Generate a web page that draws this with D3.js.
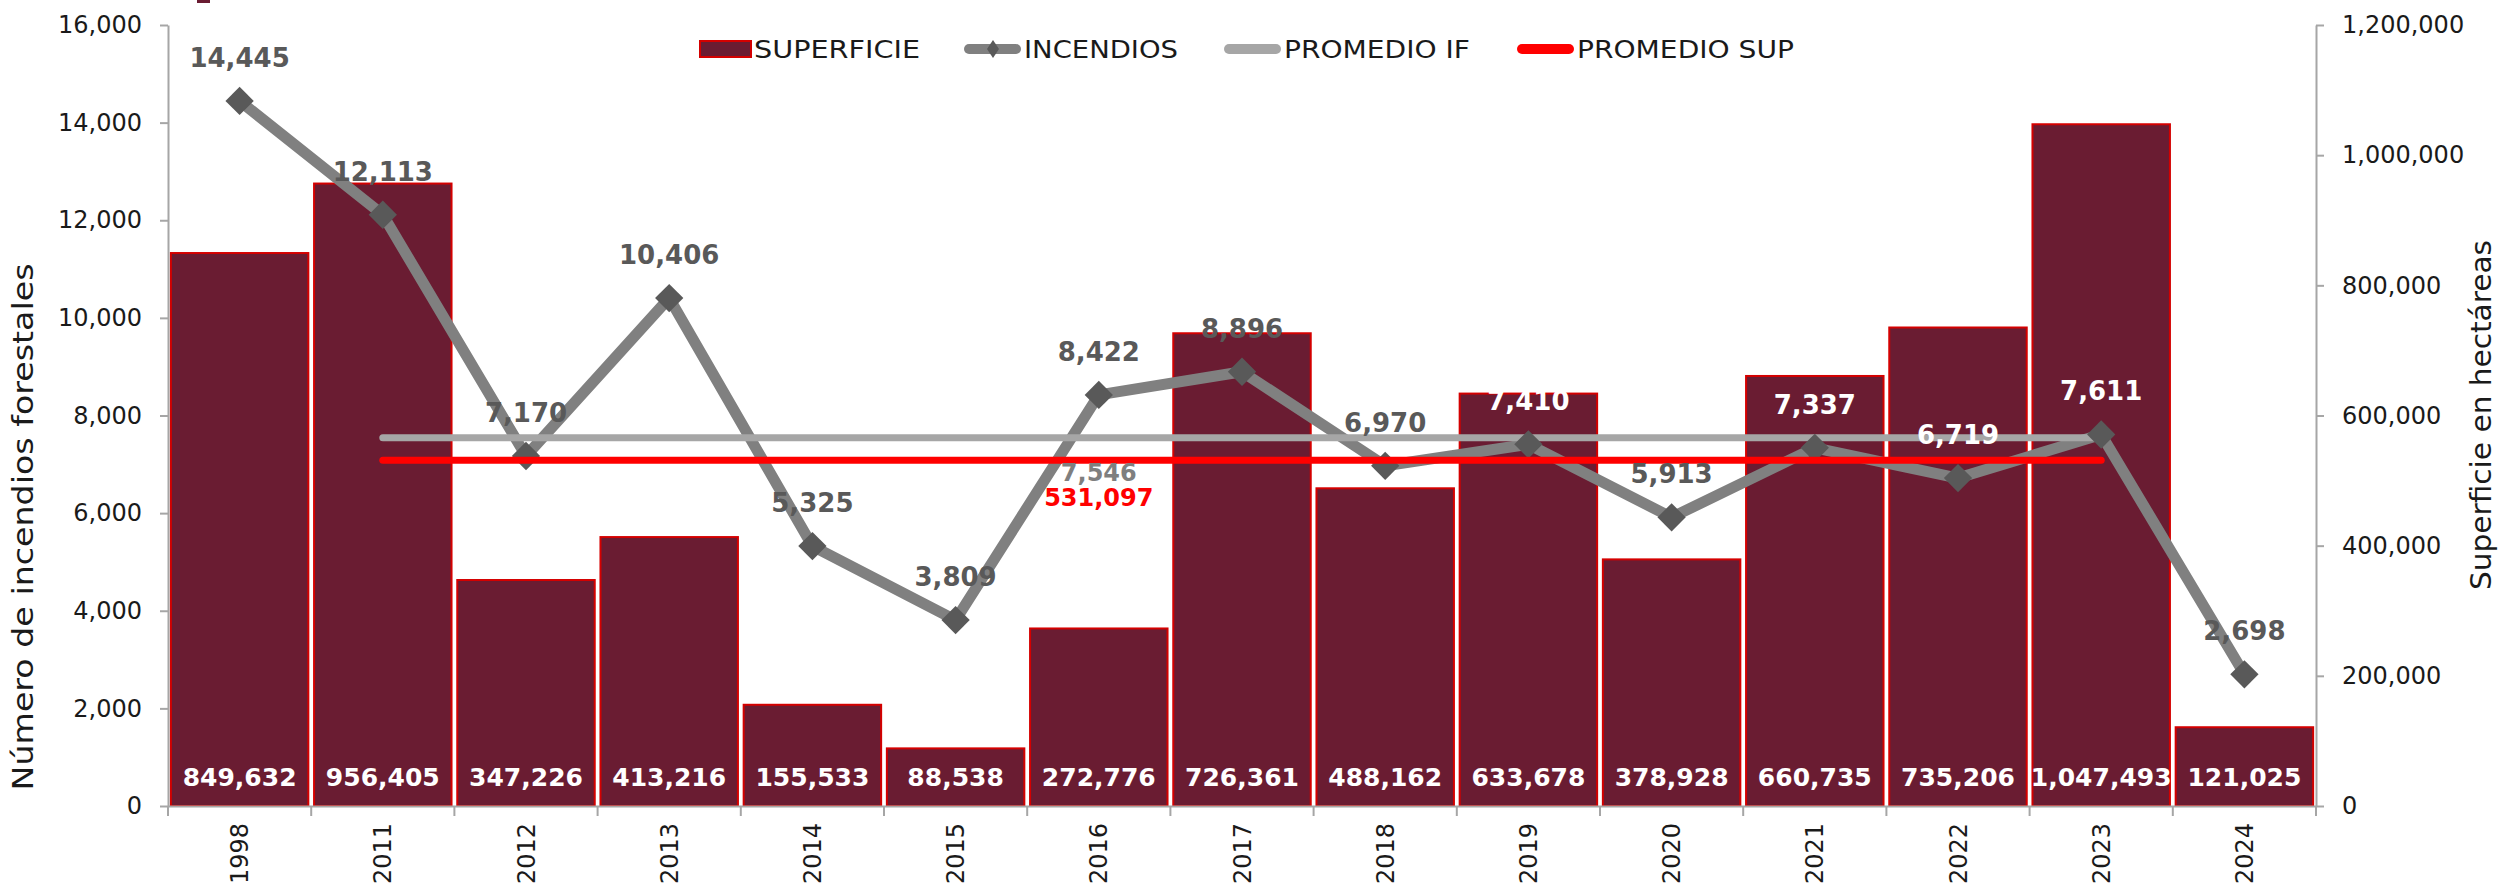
<!DOCTYPE html>
<html>
<head>
<meta charset="utf-8">
<script src="https://cdn.jsdelivr.net/npm/d3@7"></script>
<style>
  body { margin: 0; background: #fff; }
  text { font-family: "DejaVu Sans", sans-serif; }
</style>
</head>
<body>
<svg id="grafico" width="2499" height="889"></svg>
<script>
// datos
const anios = ["1998", "2011", "2012", "2013", "2014", "2015", "2016", "2017", "2018", "2019", "2020", "2021", "2022", "2023", "2024"];
const superficie = [849632, 956405, 347226, 413216, 155533, 88538, 272776, 726361, 488162, 633678, 378928, 660735, 735206, 1047493, 121025];
const incendios = [14445, 12113, 7170, 10406, 5325, 3809, 8422, 8896, 6970, 7410, 5913, 7337, 6719, 7611, 2698];
const aniosPromedio = ["2011", "2012", "2013", "2014", "2015", "2016", "2017", "2018", "2019", "2020", "2021", "2022", "2023"];
const promedioIF = 7546;
const promedioSup = 531097;
const ticksIzq = [0, 2000, 4000, 6000, 8000, 10000, 12000, 14000, 16000];
const ticksDer = [0, 200000, 400000, 600000, 800000, 1000000, 1200000];
const etiquetasBlancas = ["2019", "2021", "2022", "2023"]; // etiquetas que caen dentro de la barra
const leyenda = ["SUPERFICIE", "INCENDIOS", "PROMEDIO IF", "PROMEDIO SUP"];

const colorBarra = "#6a1c32",
      bordeBarra = "#d40000",
      colorLinea = "#808080",
      colorMarca = "#595959",
      colorPromIF = "#a6a6a6",
      colorPromSup = "#ff0000",
      colorEje = "#a6a6a6";

const svg = d3.select("#grafico");
const fmt = d3.format(",");

const x = d3.scaleBand()
    .domain(anios)
    .range([168, 2316])
    .paddingInner(0.04)
    .paddingOuter(0.02);

const yIzq = d3.scaleLinear().domain([0, 16000]).range([806, 25]);
const yDer = d3.scaleLinear().domain([0, 1200000]).range([806, 25]);

const centro = d => x(d) + x.bandwidth() / 2;

// pequeña marca del encabezado cortado
svg.append("rect").attr("x", 197).attr("y", 0).attr("width", 13).attr("height", 3).attr("fill", colorBarra);

// barras de superficie
svg.append("g")
    .selectAll("rect")
    .data(anios)
    .enter()
    .append("rect")
    .attr("x", d => x(d))
    .attr("y", (d, i) => yDer(superficie[i]))
    .attr("width", x.bandwidth())
    .attr("height", (d, i) => yDer(0) - yDer(superficie[i]))
    .attr("fill", colorBarra)
    .attr("stroke", bordeBarra)
    .attr("stroke-width", 2);

// ejes
const ejeIzq = svg.append("g")
    .attr("transform", "translate(168,0)")
    .call(d3.axisLeft(yIzq).tickValues(ticksIzq).tickSize(8).tickSizeOuter(0).tickPadding(18).tickFormat(fmt));

const ejeDer = svg.append("g")
    .attr("transform", "translate(2316,0)")
    .call(d3.axisRight(yDer).tickValues(ticksDer).tickSize(8).tickSizeOuter(0).tickPadding(18).tickFormat(fmt));

const ejeX = svg.append("g")
    .attr("transform", "translate(0,806)")
    .call(d3.axisBottom(x).tickSize(0).tickSizeOuter(0));

ejeX.selectAll("text")
    .attr("transform", "rotate(-90)")
    .attr("x", -17)
    .attr("y", 0)
    .attr("dy", "0.36em")
    .style("text-anchor", "end");

// marcas entre categorias
const paso = x.step();
svg.append("g")
    .selectAll("line")
    .data(d3.range(anios.length + 1))
    .enter()
    .append("line")
    .attr("x1", i => x.range()[0] + i * paso)
    .attr("x2", i => x.range()[0] + i * paso)
    .attr("y1", 806)
    .attr("y2", 816)
    .attr("stroke", colorEje)
    .attr("stroke-width", 2);

[ejeIzq, ejeDer, ejeX].forEach(g => {
    g.select(".domain").attr("stroke", colorEje).attr("stroke-width", 2);
    g.selectAll(".tick line").attr("stroke", colorEje).attr("stroke-width", 2);
    g.selectAll("text").attr("font-size", 24).attr("fill", "#1a1a1a").style("font-family", "DejaVu Sans");
});

// titulos de ejes
svg.append("text")
    .attr("transform", "translate(33,527) rotate(-90)")
    .attr("text-anchor", "middle")
    .attr("font-size", 29)
    .attr("fill", "#1a1a1a")
    .attr("textLength", 527)
    .attr("lengthAdjust", "spacingAndGlyphs")
    .text("Número de incendios forestales");

svg.append("text")
    .attr("transform", "translate(2491,415) rotate(-90)")
    .attr("text-anchor", "middle")
    .attr("font-size", 29)
    .attr("fill", "#1a1a1a")
    .attr("textLength", 350)
    .attr("lengthAdjust", "spacingAndGlyphs")
    .text("Superficie en hectáreas");

// linea de incendios
const linea = d3.line()
    .x(d => centro(d))
    .y((d, i) => yIzq(incendios[i]));

svg.append("path")
    .datum(anios)
    .attr("d", linea)
    .attr("fill", "none")
    .attr("stroke", colorLinea)
    .attr("stroke-width", 11)
    .attr("stroke-linejoin", "round");

// promedio de incendios
svg.append("path")
    .datum(aniosPromedio)
    .attr("d", d3.line().x(d => centro(d)).y(() => yIzq(promedioIF)))
    .attr("fill", "none")
    .attr("stroke", colorPromIF)
    .attr("stroke-width", 7)
    .attr("stroke-linecap", "round");

// marcas de rombo
const rombo = d3.symbol().type(d3.symbolSquare).size(400);
svg.append("g")
    .selectAll("path")
    .data(anios)
    .enter()
    .append("path")
    .attr("d", rombo)
    .attr("transform", (d, i) => "translate(" + centro(d) + "," + yIzq(incendios[i]) + ") rotate(45)")
    .attr("fill", colorMarca);

// promedio de superficie
svg.append("path")
    .datum(aniosPromedio)
    .attr("d", d3.line().x(d => centro(d)).y(() => yDer(promedioSup)))
    .attr("fill", "none")
    .attr("stroke", colorPromSup)
    .attr("stroke-width", 7)
    .attr("stroke-linecap", "round");

// etiquetas de incendios
svg.append("g")
    .selectAll("text")
    .data(anios)
    .enter()
    .append("text")
    .attr("x", d => centro(d))
    .attr("y", (d, i) => yIzq(incendios[i]) - 34)
    .attr("text-anchor", "middle")
    .attr("font-size", 26)
    .attr("font-weight", "bold")
    .attr("fill", d => etiquetasBlancas.includes(d) ? "#ffffff" : colorMarca)
    .text((d, i) => fmt(incendios[i]));

// etiquetas de superficie
svg.append("g")
    .selectAll("text")
    .data(anios)
    .enter()
    .append("text")
    .attr("x", d => centro(d))
    .attr("y", 786)
    .attr("text-anchor", "middle")
    .attr("font-size", 25)
    .attr("font-weight", "bold")
    .attr("fill", "#ffffff")
    .text((d, i) => fmt(superficie[i]));

// etiquetas de promedios
svg.append("text")
    .attr("x", centro("2016"))
    .attr("y", yIzq(promedioIF) + 43)
    .attr("text-anchor", "middle")
    .attr("font-size", 24)
    .attr("font-weight", "bold")
    .attr("fill", "#7f7f7f")
    .text(fmt(promedioIF));

svg.append("text")
    .attr("x", centro("2016"))
    .attr("y", yDer(promedioSup) + 46)
    .attr("text-anchor", "middle")
    .attr("font-size", 24)
    .attr("font-weight", "bold")
    .attr("fill", colorPromSup)
    .text(fmt(promedioSup));

// leyenda
const anchos = [166, 154, 186, 217];
const inicios = [700, 964, 1224, 1517];
const ley = svg.append("g");
leyenda.forEach((nombre, i) => {
    const g = ley.append("g").attr("transform", "translate(" + inicios[i] + ",49)");
    if (i === 0) {
        g.append("rect").attr("x", 0).attr("y", -8).attr("width", 51).attr("height", 16)
            .attr("fill", colorBarra).attr("stroke", bordeBarra).attr("stroke-width", 2);
    } else {
        const col = [null, colorLinea, colorPromIF, colorPromSup][i];
        g.append("line").attr("x1", 5).attr("x2", 52).attr("y1", 0).attr("y2", 0)
            .attr("stroke", col).attr("stroke-width", 10).attr("stroke-linecap", "round");
        if (i === 1) {
            g.append("path").attr("d", "M29,-9 L35,0 L29,9 L23,0 Z").attr("fill", colorMarca);
        }
    }
    g.append("text")
        .attr("x", i === 0 ? 54 : 60)
        .attr("y", 9)
        .attr("font-size", 24)
        .attr("fill", "#1a1a1a")
        .attr("textLength", anchos[i])
        .attr("lengthAdjust", "spacingAndGlyphs")
        .text(nombre);
});
</script>
</body>
</html>
